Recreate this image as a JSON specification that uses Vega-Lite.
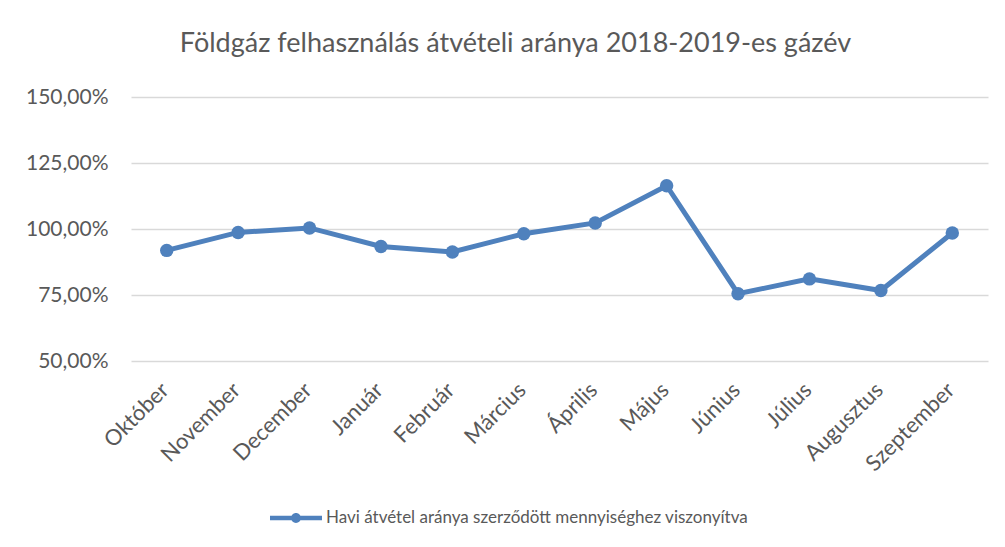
{
  "$schema": "https://vega.github.io/schema/vega-lite/v6.json",
  "width": 857,
  "height": 264,
  "autosize": {"type": "none"},
  "padding": {"left": 131, "top": 97, "right": 17, "bottom": 186},
  "background": "white",
  "title": {
    "text": "Földgáz felhasználás átvételi aránya 2018-2019-es gázév",
    "font": "Lato",
    "fontSize": 27,
    "fontWeight": "normal",
    "color": "#595959",
    "anchor": "middle",
    "dx": -44,
    "offset": 28
  },
  "data": {
    "values": [
      {"honap": "Október", "arany": 91.9, "sorozat": "Havi átvétel aránya szerződött mennyiséghez viszonyítva"},
      {"honap": "November", "arany": 98.7, "sorozat": "Havi átvétel aránya szerződött mennyiséghez viszonyítva"},
      {"honap": "December", "arany": 100.4, "sorozat": "Havi átvétel aránya szerződött mennyiséghez viszonyítva"},
      {"honap": "Január", "arany": 93.4, "sorozat": "Havi átvétel aránya szerződött mennyiséghez viszonyítva"},
      {"honap": "Február", "arany": 91.3, "sorozat": "Havi átvétel aránya szerződött mennyiséghez viszonyítva"},
      {"honap": "Március", "arany": 98.2, "sorozat": "Havi átvétel aránya szerződött mennyiséghez viszonyítva"},
      {"honap": "Április", "arany": 102.3, "sorozat": "Havi átvétel aránya szerződött mennyiséghez viszonyítva"},
      {"honap": "Május", "arany": 116.4, "sorozat": "Havi átvétel aránya szerződött mennyiséghez viszonyítva"},
      {"honap": "Június", "arany": 75.5, "sorozat": "Havi átvétel aránya szerződött mennyiséghez viszonyítva"},
      {"honap": "Július", "arany": 81.1, "sorozat": "Havi átvétel aránya szerződött mennyiséghez viszonyítva"},
      {"honap": "Augusztus", "arany": 76.7, "sorozat": "Havi átvétel aránya szerződött mennyiséghez viszonyítva"},
      {"honap": "Szeptember", "arany": 98.5, "sorozat": "Havi átvétel aránya szerződött mennyiséghez viszonyítva"}
    ]
  },
  "mark": {
    "type": "line",
    "strokeWidth": 5,
    "point": {"filled": true, "size": 180}
  },
  "encoding": {
    "x": {
      "field": "honap",
      "type": "ordinal",
      "sort": null,
      "scale": {"type": "point", "padding": 0.5},
      "axis": {
        "title": null,
        "domain": false,
        "ticks": false,
        "grid": false,
        "labelAngle": -45,
        "labelAlign": "right",
        "labelBaseline": "top",
        "labelPadding": 18,
        "labelOffset": -9,
        "labelFont": "Lato",
        "labelFontSize": 22,
        "labelColor": "#595959"
      }
    },
    "y": {
      "field": "arany",
      "type": "quantitative",
      "scale": {"domain": [50, 150], "nice": false, "zero": false},
      "axis": {
        "title": null,
        "values": [50, 75, 100, 125, 150],
        "labelExpr": "replace(format(datum.value, '.2f'), '.', ',') + '%'",
        "domain": false,
        "ticks": false,
        "grid": true,
        "gridColor": "#d9d9d9",
        "gridWidth": 1.3,
        "labelPadding": 23,
        "labelFont": "Lato",
        "labelFontSize": 21,
        "labelColor": "#595959"
      }
    },
    "color": {
      "field": "sorozat",
      "type": "nominal",
      "scale": {"range": ["#4f81bd"]},
      "legend": {
        "title": null,
        "orient": "none",
        "legendX": 139,
        "legendY": 395,
        "symbolType": "M-1,-0.085L1,-0.085L1,0.085L-1,0.085Z M-0.19,0A0.19,0.19 0 1,1 0.19,0A0.19,0.19 0 1,1 -0.19,0Z",
        "symbolSize": 2704,
        "symbolFillColor": "#4f81bd",
        "symbolStrokeWidth": 0,
        "labelFont": "Lato",
        "labelFontSize": 17,
        "labelLimit": 0,
        "labelColor": "#595959",
        "labelOffset": 4
      }
    }
  },
  "config": {
    "view": {"stroke": null}
  }
}
